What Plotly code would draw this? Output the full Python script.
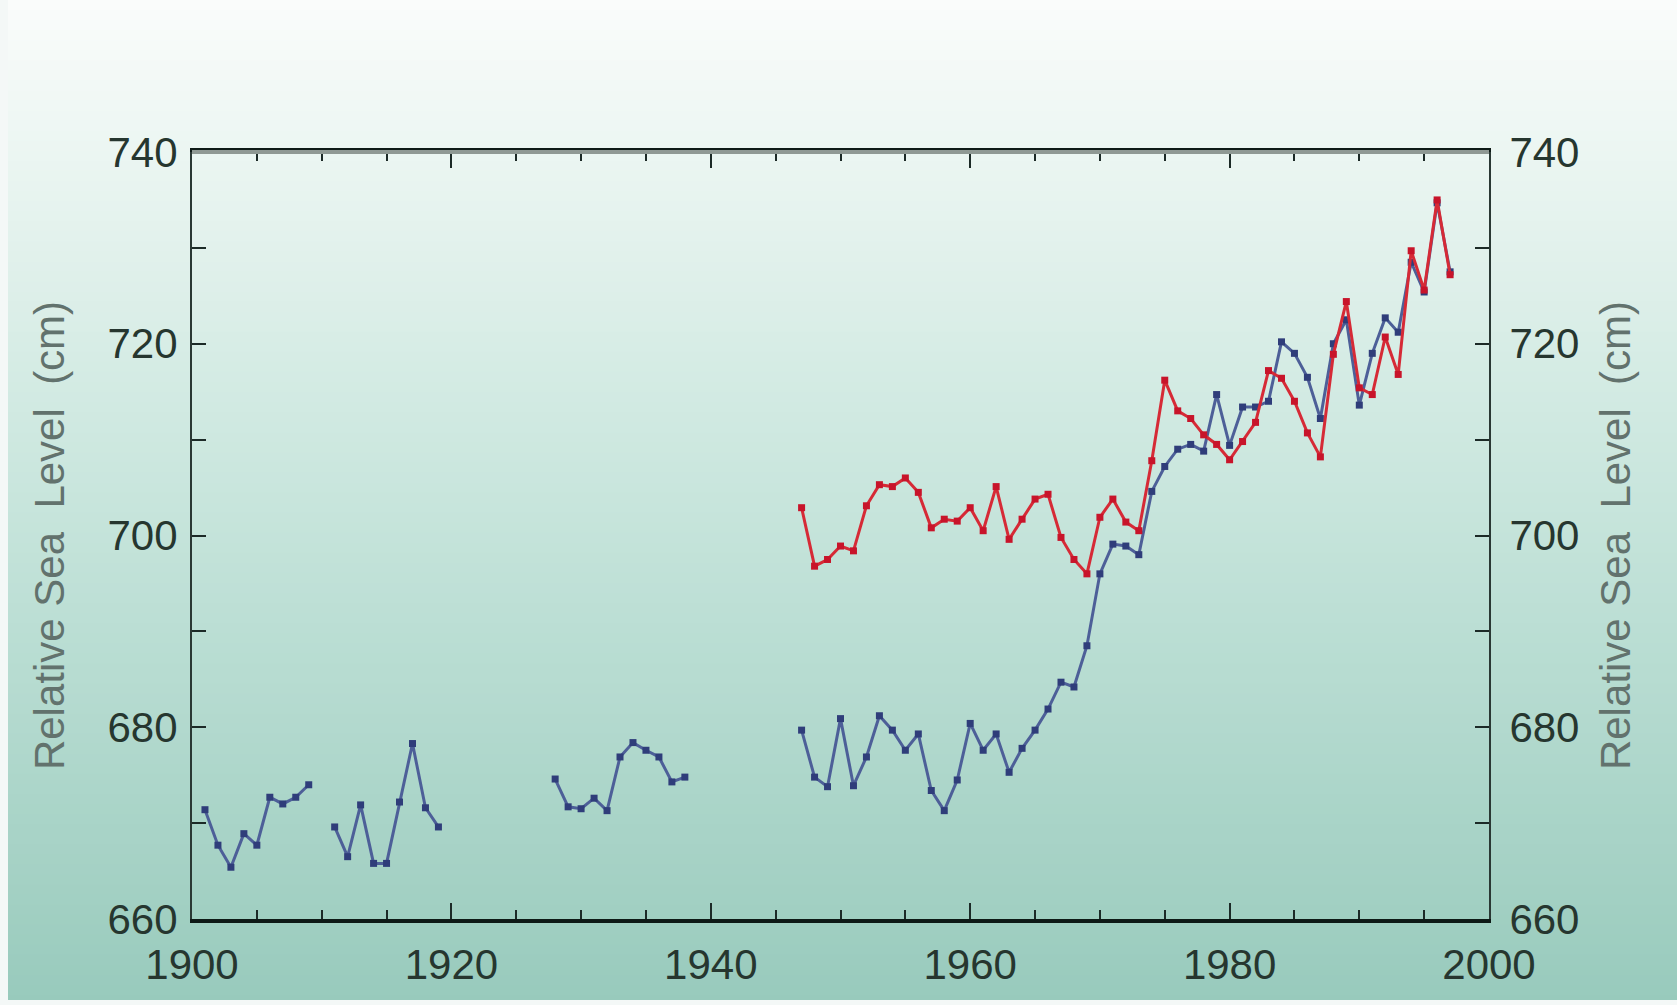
import plotly.graph_objects as go

# Annual mean relative sea level (cm), tide-gauge record
blue_years = [
    1901, 1902, 1903, 1904, 1905, 1906, 1907, 1908, 1909, 1910,
    1911, 1912, 1913, 1914, 1915, 1916, 1917, 1918, 1919, 1920,
    1928, 1929, 1930, 1931, 1932, 1933, 1934, 1935, 1936, 1937, 1938, 1939,
    1947, 1948, 1949, 1950, 1951, 1952, 1953, 1954, 1955, 1956,
    1957, 1958, 1959, 1960, 1961, 1962, 1963, 1964, 1965, 1966,
    1967, 1968, 1969, 1970, 1971, 1972, 1973, 1974, 1975, 1976,
    1977, 1978, 1979, 1980, 1981, 1982, 1983, 1984, 1985, 1986,
    1987, 1988, 1989, 1990, 1991, 1992, 1993, 1994, 1995, 1996, 1997,
]
blue_level = [
    671.4, 667.7, 665.4, 668.9, 667.7, 672.7, 672.0, 672.7, 674.0, None,
    669.6, 666.5, 671.9, 665.8, 665.8, 672.2, 678.3, 671.6, 669.6, None,
    674.6, 671.7, 671.5, 672.6, 671.3, 676.9, 678.4, 677.6, 676.9, 674.3, 674.8, None,
    679.7, 674.8, 673.8, 680.9, 673.9, 676.9, 681.2, 679.7, 677.6, 679.3,
    673.4, 671.3, 674.5, 680.4, 677.6, 679.3, 675.3, 677.8, 679.7, 681.9,
    684.7, 684.2, 688.5, 696.0, 699.1, 698.9, 698.0, 704.6, 707.2, 709.0,
    709.5, 708.8, 714.7, 709.4, 713.4, 713.4, 714.0, 720.2, 719.0, 716.5,
    712.2, 720.0, 722.5, 713.6, 719.0, 722.7, 721.2, 728.5, 725.4, 734.7, 727.5,
]

red_years = list(range(1947, 1998))
red_level = [
    702.9, 696.8, 697.5, 698.9, 698.4, 703.1, 705.3, 705.1, 706.0, 704.5,
    700.8, 701.7, 701.5, 702.9, 700.5, 705.1, 699.6, 701.7, 703.8, 704.3,
    699.8, 697.5, 696.0, 701.9, 703.8, 701.4, 700.5, 707.8, 716.2, 713.0,
    712.2, 710.5, 709.5, 707.9, 709.8, 711.8, 717.2, 716.4, 714.0, 710.7,
    708.2, 718.9, 724.4, 715.4, 714.7, 720.7, 716.8, 729.7, 725.6, 735.0,
    727.2,
]

y_ticks = [660, 680, 700, 720, 740]
x_ticks = [1900, 1920, 1940, 1960, 1980, 2000]

W, H = 1677, 1005
ML, MR, MT, MB = 192, 188, 152, 86
PW, PH = W - ML - MR, H - MT - MB

fig = go.Figure()

fig.add_trace(go.Scatter(
    x=blue_years, y=blue_level, mode="lines+markers", connectgaps=False,
    line=dict(color="#4d5f98", width=3),
    marker=dict(symbol="square", size=7, color="#2f3d7a"),
    showlegend=False, hoverinfo="x+y",
))
fig.add_trace(go.Scatter(
    x=red_years, y=red_level, mode="lines+markers", yaxis="y2",
    line=dict(color="#d62a36", width=3),
    marker=dict(symbol="square", size=7, color="#c8142a"),
    showlegend=False, hoverinfo="x+y",
))

# vertical background gradient, white at the top fading to sea green
stops = [(0.0, (250, 252, 251)), (0.15, (236, 246, 242)),
         (0.5, (199, 229, 220)), (1.0, (152, 202, 188))]


def grad_color(t):
    for (t0, c0), (t1, c1) in zip(stops[:-1], stops[1:]):
        if t <= t1:
            f = (t - t0) / (t1 - t0)
            return "rgb(%d,%d,%d)" % tuple(round(a + (b - a) * f) for a, b in zip(c0, c1))
    return "rgb(%d,%d,%d)" % stops[-1][1]


def px_x(px):
    return (px - ML) / PW


def px_y(py):
    return (H - MB - py) / PH


shapes = []
n = 100
for i in range(n):
    py0 = H * i / n
    py1 = H * (i + 1) / n + 1
    shapes.append(dict(
        type="rect", xref="paper", yref="paper", layer="below",
        x0=px_x(0) - 0.01, x1=px_x(W) + 0.01,
        y0=px_y(py1), y1=px_y(py0),
        line=dict(width=0), fillcolor=grad_color((i + 0.5) / n),
    ))
# thin white frame along the left and bottom edges
shapes.append(dict(type="rect", xref="paper", yref="paper", layer="below",
                   x0=px_x(0) - 0.01, x1=px_x(8), y0=px_y(H) - 0.01, y1=px_y(0) + 0.01,
                   line=dict(width=0), fillcolor="#f4f8f7"))
shapes.append(dict(type="rect", xref="paper", yref="paper", layer="below",
                   x0=px_x(0) - 0.01, x1=px_x(W) + 0.01, y0=px_y(H) - 0.01, y1=px_y(1000),
                   line=dict(width=0), fillcolor="#f4f8f7"))
# top frame edge is lighter than the bottom one
shapes.append(dict(type="line", xref="paper", yref="paper", x0=0, x1=1, y0=1, y1=1,
                   line=dict(color="#8f9994", width=4), layer="above"))

tick_font = dict(family="Liberation Sans, Arial, sans-serif", size=42, color="#26362f")
title_font = dict(family="Liberation Sans, Arial, sans-serif", size=42, color="#62726d")

yaxis_common = dict(
    range=[660, 740], tickvals=y_ticks, ticks="inside", ticklen=14, tickwidth=2,
    tickcolor="#1c2a27", showgrid=False, zeroline=False, tickfont=tick_font,
    minor=dict(dtick=10, ticks="inside", ticklen=14, tickwidth=2, tickcolor="#1c2a27"),
    showline=True, linecolor="#2a3834", linewidth=2,
)

fig.update_layout(
    width=W, height=H,
    margin=dict(l=ML, r=MR, t=MT, b=MB, pad=0),
    paper_bgcolor="#ffffff", plot_bgcolor="rgba(0,0,0,0)",
    shapes=shapes,
    xaxis=dict(
        range=[1900, 2000], tickvals=x_ticks, ticks="inside", ticklen=16, tickwidth=2,
        tickcolor="#1c2a27", showline=True, linecolor="#0e1a17", linewidth=4,
        mirror="ticks", showgrid=False, zeroline=False, tickfont=tick_font,
        ticklabelstandoff=6,
        minor=dict(dtick=5, ticks="inside", ticklen=9, tickwidth=2, tickcolor="#1c2a27"),
    ),
    yaxis=dict(**yaxis_common, side="left", ticklabelstandoff=4,
               title=dict(text="Relative Sea  Level  (cm)", font=title_font, standoff=30)),
    yaxis2=dict(**yaxis_common, side="right", overlaying="y", matches="y",
                ticklabelstandoff=10,
                title=dict(text="Relative Sea  Level  (cm)", font=title_font, standoff=22)),
)

fig.write_html("out.html")
